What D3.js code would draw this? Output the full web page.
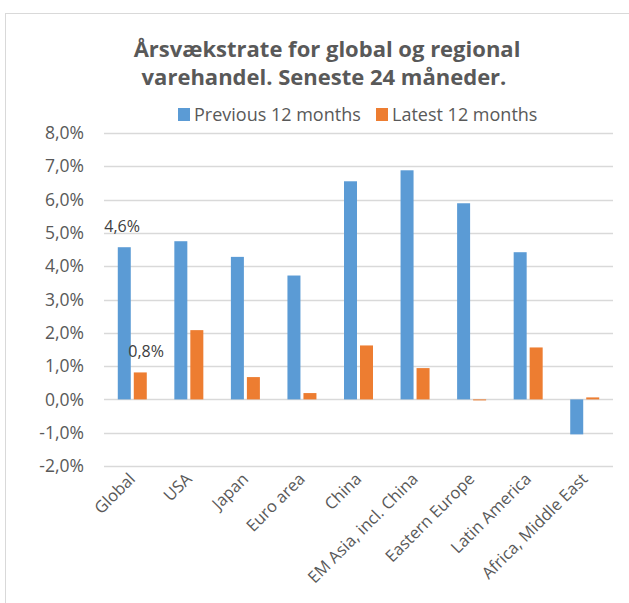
<!DOCTYPE html>
<html lang="da">
<head>
<meta charset="UTF-8">
<title>Årsvækstrate for global og regional varehandel</title>
<script src="https://d3js.org/d3.v7.min.js"></script>
<style>
  body { margin: 0; background: #fff; font-family: "Open Sans", sans-serif; }
  .axis text { fill: #595959; }
  .grid line { stroke: #d9d9d9; }
</style>
</head>
<body>
<div id="chart"></div>
<script>
const regions = ["Global", "USA", "Japan", "Euro area", "China", "EM Asia, incl. China", "Eastern Europe", "Latin America", "Africa, Middle East"];
const previous12 = [4.57, 4.75, 4.28, 3.72, 6.55, 6.88, 5.89, 4.42, -1.05];
const latest12 = [0.81, 2.08, 0.67, 0.19, 1.62, 0.94, -0.03, 1.56, 0.06];
const seriesNames = ["Previous 12 months", "Latest 12 months"];
const colors = ["#5b9bd5", "#ed7d31"];
const yTicks = [-2, -1, 0, 1, 2, 3, 4, 5, 6, 7, 8];

const W = 629, H = 603;
const svg = d3.select("#chart").append("svg").attr("width", W).attr("height", H);

// chart frame (cut off on right and bottom)
svg.append("rect").attr("x", 5.5).attr("y", 13.5).attr("width", 640).attr("height", 620)
  .attr("fill", "none").attr("stroke", "#d9d9d9");

const plotL = 104, plotR = 613, plotT = 133, plotB = 466;
const x0 = d3.scaleBand().domain(regions).range([plotL, plotR]);
const y = d3.scaleLinear().domain([-2, 8]).range([plotB, plotT]);
const fmt = v => d3.format(".1f")(v).replace(".", ",").replace("−", "-") + "%";

// gridlines
svg.append("g").attr("class", "grid")
  .selectAll("line").data(yTicks).join("line")
  .attr("x1", plotL).attr("x2", plotR)
  .attr("y1", d => Math.round(y(d)) + 0.5).attr("y2", d => Math.round(y(d)) + 0.5)
  .attr("stroke-width", 1.3);

// y axis labels
svg.append("g").attr("class", "axis")
  .attr("transform", "translate(" + plotL + ",0)")
  .call(d3.axisLeft(y).tickValues(yTicks).tickFormat(fmt).tickSize(0).tickPadding(20))
  .call(g => g.select(".domain").remove())
  .selectAll("text").style("font-size", "17.5px").style("font-family", "Open Sans");

// bars
const barW = 13, gap = 3;
const data = regions.map((r, i) => [previous12[i], latest12[i]]);
const groups = svg.append("g").selectAll("g").data(data).join("g")
  .attr("transform", (d, i) => "translate(" + (x0(regions[i]) + x0.bandwidth() / 2) + ",0)");
groups.selectAll("rect").data(d => d).join("rect")
  .attr("x", (d, j) => j === 0 ? -barW - gap / 2 : gap / 2)
  .attr("width", barW)
  .attr("y", d => y(Math.max(0, d)))
  .attr("height", d => Math.abs(y(d) - y(0)))
  .attr("fill", (d, j) => colors[j]);

// data labels on Global
svg.append("text").attr("x", x0("Global") + x0.bandwidth() / 2 - 28).attr("y", y(previous12[0]) - 15)
  .attr("fill", "#404040").style("font-size", "16px").text(fmt(previous12[0]));
svg.append("text").attr("x", x0("Global") + x0.bandwidth() / 2 - 4).attr("y", y(latest12[0]) - 15)
  .attr("fill", "#404040").style("font-size", "16px").text(fmt(latest12[0]));

// x axis labels
svg.append("g").selectAll("text").data(regions).join("text")
  .attr("transform", d => "translate(" + (x0(d) + x0.bandwidth() / 2 + 4) + "," + (plotB + 14) + ") rotate(-45)")
  .attr("text-anchor", "end")
  .attr("fill", "#595959")
  .style("font-size", "16.5px")
  .text(d => d);

// title
const title = svg.append("text").attr("text-anchor", "middle").attr("fill", "#595959")
  .style("font-size", "22px").style("font-weight", "bold");
title.append("tspan").attr("x", 327).attr("y", 57).text("Årsvækstrate for global og regional");
title.append("tspan").attr("x", 324).attr("y", 85).text("varehandel. Seneste 24 måneder.");

// legend
const legend = svg.append("g").selectAll("g").data(seriesNames).join("g")
  .attr("transform", (d, i) => "translate(" + [178, 376][i] + ",108)");
legend.append("rect").attr("width", 12).attr("height", 13).attr("fill", (d, i) => colors[i]);
legend.append("text").attr("x", 16).attr("y", 13).attr("fill", "#595959")
  .style("font-size", "18px").text(d => d);
</script>
</body>
</html>
